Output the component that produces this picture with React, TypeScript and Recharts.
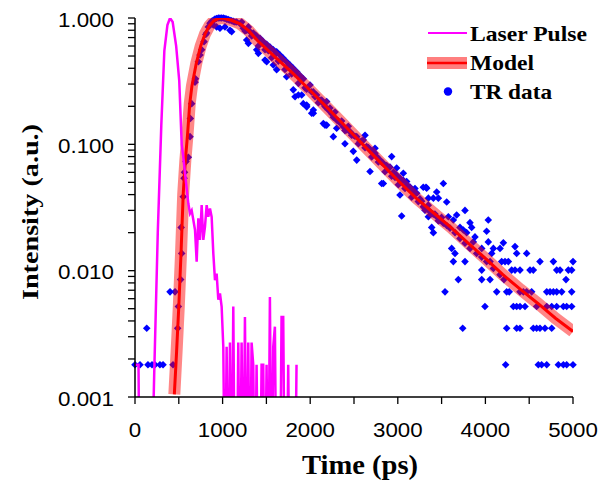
import React from "react";
import { ComposedChart, Line, Scatter, XAxis, YAxis } from "recharts";

// ---------- data (time in ps, intensity in a.u.) ----------
const laserPulse: [number, number][] = [
  [0, 0.0018], [40, 0.0018], [55, 0.0001], [180, 0.0001], [220, 0.0016], [260, 0.02],
  [300, 0.14], [335, 0.55], [370, 0.88], [400, 1.0], [430, 0.93], [470, 0.6], [505, 0.32],
  [533, 0.1], [551, 0.08], [570, 0.06], [609, 0.034], [628, 0.0284], [647, 0.03],
  [666, 0.0252], [685, 0.021], [704, 0.0118], [723, 0.026], [742, 0.0175], [761, 0.033],
  [780, 0.0175], [799, 0.0223], [818, 0.033], [837, 0.0267], [856, 0.031], [875, 0.0267],
  [894, 0.0137], [913, 0.0084], [932, 0.0095], [951, 0.0059], [970, 0.0066], [989, 0.0052],
  [1008, 0.0025], [1027, 0.0001], [1046, 0.0025], [1065, 0.0001], [1084, 0.0027],
  [1103, 0.0001], [1122, 0.0052], [1141, 0.0001], [1160, 0.0001], [1179, 0.0027],
  [1198, 0.0001], [1217, 0.0027], [1236, 0.0001], [1255, 0.0043], [1274, 0.0001],
  [1293, 0.0027], [1312, 0.0001], [1331, 0.0027], [1350, 0.0018], [1369, 0.0001],
  [1388, 0.0018], [1407, 0.0001], [1426, 0.0001], [1445, 0.0018], [1464, 0.0018],
  [1483, 0.0001], [1502, 0.0018], [1521, 0.0001], [1540, 0.0062], [1559, 0.0001],
  [1578, 0.0025], [1597, 0.0036], [1616, 0.0001], [1635, 0.0001], [1654, 0.0001],
  [1673, 0.0043], [1692, 0.0043], [1711, 0.0001], [1730, 0.0001], [1749, 0.0018],
  [1768, 0.0001], [1787, 0.0001], [1806, 0.0001], [1825, 0.0001], [1844, 0.0018],
];

const modelCurve: [number, number][] = [
  [449, 0.00105], [475, 0.0023], [500, 0.0052], [525, 0.0135], [550, 0.04], [575, 0.075],
  [600, 0.12], [625, 0.21], [650, 0.29], [700, 0.44], [750, 0.6], [800, 0.75], [850, 0.87],
  [900, 0.95], [950, 0.99], [1000, 1.0], [1100, 0.96], [1200, 0.9], [1300, 0.79],
  [1400, 0.66], [1500, 0.57], [1600, 0.49], [1800, 0.366], [2000, 0.267], [2200, 0.193],
  [2400, 0.139], [2600, 0.1], [2800, 0.072], [3000, 0.052], [3200, 0.038], [3400, 0.029],
  [3600, 0.0222], [3800, 0.0166], [4000, 0.0125], [4200, 0.0093], [4400, 0.0071],
  [4600, 0.0055], [4800, 0.0042], [5000, 0.0033],
];

const trEarly: [number, number][] = [
  [0, 0.0018], [57, 0.0018], [134, 0.0035], [148, 0.0018], [194, 0.0018], [228, 0.0018],
  [285, 0.0018], [320, 0.0018], [400, 0.0068], [434, 0.0018], [457, 0.0068],
];

const trRise: [number, number][] = [
  [487, 0.0035], [495, 0.0052], [521, 0.0085], [533, 0.0137], [527, 0.022], [551, 0.0385],
  [560, 0.054], [565, 0.06], [582, 0.073], [609, 0.079], [628, 0.115], [632, 0.16],
  [647, 0.21], [685, 0.31], [690, 0.33], [723, 0.45], [742, 0.51], [761, 0.56], [788, 0.65],
  [808, 0.74], [818, 0.76], [837, 0.85], [856, 0.91], [875, 0.94], [894, 0.96], [913, 0.98],
  [932, 0.99], [951, 1.0], [970, 1.0], [989, 1.0], [1008, 1.0], [1027, 0.99], [1046, 0.98],
  [1065, 0.97], [1084, 0.96], [1103, 0.95], [1122, 0.94], [1141, 0.93], [1161, 0.93],
  [894, 0.88], [932, 0.85], [970, 0.83], [1027, 0.85], [1084, 0.8], [1103, 0.78],
];

const trDecayBand: [number, number][] = [
  [1200, 0.9], [1236, 0.83], [1275, 0.8], [1313, 0.78], [1351, 0.76], [1389, 0.72],
  [1427, 0.69], [1465, 0.65], [1503, 0.62], [1541, 0.59], [1579, 0.56], [1617, 0.54],
  [1655, 0.51], [1693, 0.48], [1731, 0.45], [1769, 0.425], [1807, 0.4], [1846, 0.375],
  [1884, 0.35], [1922, 0.33], [1941, 0.28], [1998, 0.295], [2036, 0.26], [2055, 0.238],
  [2074, 0.246], [2112, 0.224], [2150, 0.21], [2188, 0.218], [2207, 0.187], [2245, 0.175],
  [2302, 0.156], [2340, 0.148], [2378, 0.138], [2416, 0.13], [2454, 0.126], [2492, 0.118],
  [2531, 0.115], [2569, 0.105], [2606, 0.108], [2645, 0.096], [2683, 0.09], [2721, 0.085],
  [2759, 0.08], [2797, 0.075], [2835, 0.0707], [2873, 0.068], [2911, 0.066], [2949, 0.06],
  [2987, 0.057], [3025, 0.054], [3063, 0.052], [3101, 0.048], [3139, 0.046], [3177, 0.043],
  [3216, 0.041], [3253, 0.037], [3291, 0.0321], [3329, 0.031], [3367, 0.0293],
  [3405, 0.028], [3444, 0.0267], [3482, 0.025], [3520, 0.0237], [3558, 0.0228],
  [3596, 0.0217], [3653, 0.02], [3710, 0.018], [3767, 0.0165], [3824, 0.015],
  [3900, 0.0137], [3958, 0.0128], [4014, 0.0118], [4091, 0.0104], [4167, 0.0093],
];

const trDecayBand2: [number, number][] = [
  [1218, 0.93], [1256, 0.79], [1294, 0.85], [1332, 0.72], [1370, 0.72], [1408, 0.6],
  [1446, 0.654], [1484, 0.56], [1522, 0.551], [1560, 0.484], [1598, 0.511], [1636, 0.456],
  [1674, 0.462], [1712, 0.391], [1750, 0.421], [1788, 0.361], [1826, 0.362], [1865, 0.304],
  [1903, 0.33], [1960, 0.273], [2017, 0.26], [2093, 0.2135], [2131, 0.224], [2169, 0.199],
  [2226, 0.194], [2264, 0.164], [2283, 0.18], [2321, 0.153], [2359, 0.153], [2397, 0.1285],
  [2435, 0.139], [2473, 0.118], [2511, 0.116], [2550, 0.101], [2588, 0.106], [2626, 0.0939],
  [2664, 0.0945], [2702, 0.0795], [2740, 0.085], [2778, 0.0724], [2816, 0.0723],
  [2854, 0.0607], [2892, 0.0657], [2930, 0.056], [2968, 0.0548], [3006, 0.0479],
  [3044, 0.0505], [3082, 0.0448], [3120, 0.0453], [3158, 0.0382], [3196, 0.041],
  [3234, 0.0352], [3272, 0.0355], [3310, 0.0301], [3348, 0.033], [3386, 0.0284],
  [3424, 0.0281], [3462, 0.0248], [3500, 0.0264],
];

const trScatterMid: [number, number][] = [
  [1275, 0.67], [1294, 0.63], [1389, 0.56], [1408, 0.525], [1484, 0.465], [1503, 0.45],
  [1579, 0.425], [1617, 0.39], [1731, 0.343], [1807, 0.27], [1827, 0.238], [1865, 0.246],
  [1921, 0.21], [1960, 0.198], [2017, 0.176], [2036, 0.187], [2150, 0.146], [2188, 0.142],
  [1903, 0.246], [1960, 0.205], [2036, 0.176], [2169, 0.142], [2264, 0.115], [2302, 0.134],
  [2397, 0.101], [2492, 0.088], [2531, 0.075], [2626, 0.118], [2683, 0.061], [2740, 0.093],
  [2816, 0.049], [2930, 0.08], [2987, 0.065], [3063, 0.059], [3101, 0.0507], [3330, 0.045],
  [3520, 0.049], [3444, 0.042], [3406, 0.0375], [2835, 0.049], [3025, 0.0397],
  [3044, 0.0271], [3196, 0.0447], [3291, 0.0457], [3322, 0.0457], [3349, 0.0375],
  [3463, 0.0375], [3558, 0.035], [3349, 0.0267], [3387, 0.022], [3406, 0.02],
];

const trTail: [number, number][] = [
  [3539, 0.0068], [3577, 0.0267], [3634, 0.0252], [3672, 0.0276], [3615, 0.015],
  [3634, 0.0118], [3653, 0.0137], [3691, 0.0085], [3710, 0.022], [3748, 0.021],
  [3786, 0.02], [3741, 0.0035], [3767, 0.03], [3767, 0.0118], [3824, 0.024], [3843, 0.022],
  [3862, 0.0169], [3881, 0.0185], [3958, 0.015], [3958, 0.0101], [3958, 0.0085],
  [3995, 0.0052], [4014, 0.0205], [4033, 0.0252], [4033, 0.0169], [4053, 0.0085],
  [4072, 0.0137], [4091, 0.015], [4053, 0.0118], [4129, 0.0068], [4167, 0.015],
  [4186, 0.0118], [4224, 0.0118], [4262, 0.0118], [4205, 0.0166], [4212, 0.0085],
  [4243, 0.0068], [4272, 0.0068], [4243, 0.0035], [4231, 0.0018], [4300, 0.0101],
  [4338, 0.0101], [4395, 0.0101], [4319, 0.0052], [4357, 0.0052], [4395, 0.0052],
  [4452, 0.0052], [4338, 0.0155], [4357, 0.0137], [4357, 0.0035], [4395, 0.0035],
  [4395, 0.0068], [4433, 0.0068], [4471, 0.0068], [4528, 0.0068], [4471, 0.0137],
  [4509, 0.0101], [4547, 0.0101], [4547, 0.0035], [4585, 0.0035], [4623, 0.0035],
  [4680, 0.0035], [4757, 0.0035], [4585, 0.0052], [4700, 0.0052], [4757, 0.0052],
  [4814, 0.0052], [4890, 0.0052], [4928, 0.0052], [4985, 0.0052], [4623, 0.0118],
  [4604, 0.0018], [4642, 0.0018], [4700, 0.0018], [4700, 0.0068], [4738, 0.0068],
  [4776, 0.0068], [4814, 0.0068], [4871, 0.0068], [4985, 0.0068], [4776, 0.0118],
  [4814, 0.0101], [4852, 0.0101], [4947, 0.0101], [4985, 0.0101], [4833, 0.0018],
  [4890, 0.0018], [4928, 0.0018], [5000, 0.0018], [4920, 0.0085], [5000, 0.0118],
];

const xTicks = [0, 500, 1000, 1500, 2000, 2500, 3000, 3500, 4000, 4500, 5000];
const yTicks = [
  0.001, 0.002, 0.003, 0.004, 0.005, 0.006, 0.007, 0.008, 0.009,
  0.01, 0.02, 0.03, 0.04, 0.05, 0.06, 0.07, 0.08, 0.09,
  0.1, 0.2, 0.3, 0.4, 0.5, 0.6, 0.7, 0.8, 0.9, 1,
];
const legendLabels = ["Laser Pulse", "Model", "TR data"];
const xTitle = "Time (ps)";
const yTitle = "Intensity (a.u.)";

const toPts = (arr: [number, number][]) => arr.map(([t, v]) => ({ t, v }));
const laserData = toPts(laserPulse);
const modelData = toPts(modelCurve);
const trData = toPts([
  ...trEarly, ...trRise, ...trDecayBand, ...trDecayBand2, ...trScatterMid, ...trTail,
]);

const SANS = "'Liberation Sans', Arial, Helvetica, sans-serif";
const SERIF = "'Liberation Serif', 'Times New Roman', Times, serif";
const W = 603;
const H = 482;
const MARGIN = { top: 18, right: 30, bottom: 0, left: 0 };

const Diamond = (props: any) => {
  const { cx, cy } = props;
  if (cx == null || cy == null) return <g />;
  const r = 3.8;
  return (
    <path
      d={`M${cx},${cy - r}L${cx + r},${cy}L${cx},${cy + r}L${cx - r},${cy}Z`}
      fill="#0000ff"
      stroke="none"
    />
  );
};

const YTick = (props: any) => {
  const { y, payload } = props;
  const v = payload.value as number;
  const lg = Math.log10(v);
  if (Math.abs(lg - Math.round(lg)) > 1e-6) return <g />;
  return (
    <text
      x={114}
      y={y + 8.5}
      textAnchor="end"
      fontFamily={SANS}
      fontSize={20}
      fill="#000"
      textLength={56}
      lengthAdjust="spacingAndGlyphs"
    >
      {v.toFixed(3)}
    </text>
  );
};

const XTick = (props: any) => {
  const { x, payload } = props;
  const v = payload.value as number;
  if (v % 1000 !== 0) return <g />;
  const s = String(v);
  return (
    <text
      x={x}
      y={437}
      textAnchor="middle"
      fontFamily={SANS}
      fontSize={20}
      fill="#000"
      textLength={s.length * 12.4}
      lengthAdjust="spacingAndGlyphs"
    >
      {s}
    </text>
  );
};

const layer: React.CSSProperties = { position: "absolute", left: 0, top: 0 };

export default function App() {
  return (
    <div style={{ position: "absolute", left: 0, top: 0, width: W, height: H, background: "#fff" }}>
      {/* bottom layer: TR data markers (unclipped) */}
      <div style={layer}>
        <ComposedChart width={W} height={H} margin={MARGIN}>
          <XAxis
            type="number"
            dataKey="t"
            domain={[0, 5000]}
            ticks={xTicks}
            height={85}
            tick={false}
            tickLine={false}
            axisLine={false}
          />
          <YAxis
            type="number"
            dataKey="v"
            scale="log"
            domain={[0.001, 1]}
            ticks={yTicks}
            width={135}
            tick={false}
            tickLine={false}
            axisLine={false}
          />
          <Scatter data={trData} dataKey="v" shape={<Diamond />} isAnimationActive={false} />
        </ComposedChart>
      </div>
      {/* top layer: model halo, model line, laser pulse, axes */}
      <div style={layer}>
        <ComposedChart width={W} height={H} margin={MARGIN}>
          <XAxis
            type="number"
            dataKey="t"
            domain={[0, 5000]}
            ticks={xTicks}
            interval={0}
            allowDataOverflow
            height={85}
            tickSize={7}
            tick={<XTick />}
            axisLine={{ stroke: "#000", strokeWidth: 1.5 }}
            tickLine={{ stroke: "#000", strokeWidth: 1.3 }}
          />
          <YAxis
            type="number"
            dataKey="v"
            scale="log"
            domain={[0.001, 1]}
            ticks={yTicks}
            interval={0}
            allowDataOverflow
            width={135}
            tickSize={7}
            tick={<YTick />}
            axisLine={{ stroke: "#000", strokeWidth: 1.5 }}
            tickLine={{ stroke: "#000", strokeWidth: 1.3 }}
          />
          <Line
            data={modelData}
            dataKey="v"
            type="linear"
            stroke="#ff0000"
            strokeOpacity={0.47}
            strokeWidth={12}
            strokeLinecap="butt"
            dot={false}
            activeDot={false}
            isAnimationActive={false}
          />
          <Line
            data={modelData}
            dataKey="v"
            type="linear"
            stroke="#ff0000"
            strokeWidth={3}
            dot={false}
            activeDot={false}
            isAnimationActive={false}
          />
          <Line
            data={laserData}
            dataKey="v"
            type="linear"
            stroke="#ff00ff"
            strokeWidth={2.5}
            dot={false}
            activeDot={false}
            isAnimationActive={false}
          />
        </ComposedChart>
      </div>
      <svg width={W} height={H} style={{ ...layer, pointerEvents: "none" }}>
        {/* legend */}
        <line x1={428} y1={33} x2={467} y2={33} stroke="#ff00ff" strokeWidth={2} />
        <rect x={427} y={57} width={40} height={12} fill="#ff0000" fillOpacity={0.5} />
        <line x1={427} y1={63} x2={467} y2={63} stroke="#ff0000" strokeWidth={2.5} />
        <circle cx={448} cy={91.5} r={4.2} fill="#0000ff" />
        <text x={470} y={41} fontFamily={SERIF} fontWeight="bold" fontSize={22} fill="#000" textLength={117} lengthAdjust="spacingAndGlyphs">
          {legendLabels[0]}
        </text>
        <text x={470} y={69.5} fontFamily={SERIF} fontWeight="bold" fontSize={22} fill="#000" textLength={64} lengthAdjust="spacingAndGlyphs">
          {legendLabels[1]}
        </text>
        <text x={470} y={98.5} fontFamily={SERIF} fontWeight="bold" fontSize={22} fill="#000" textLength={82} lengthAdjust="spacingAndGlyphs">
          {legendLabels[2]}
        </text>
        {/* axis titles */}
        <text x={360} y={474} textAnchor="middle" fontFamily={SERIF} fontWeight="bold" fontSize={27} fill="#000" textLength={116} lengthAdjust="spacingAndGlyphs">
          {xTitle}
        </text>
        <text
          transform="translate(38,212) rotate(-90)"
          textAnchor="middle"
          fontFamily={SERIF}
          fontWeight="bold"
          fontSize={23}
          fill="#000"
          textLength={176}
          lengthAdjust="spacingAndGlyphs"
        >
          {yTitle}
        </text>
      </svg>
    </div>
  );
}
